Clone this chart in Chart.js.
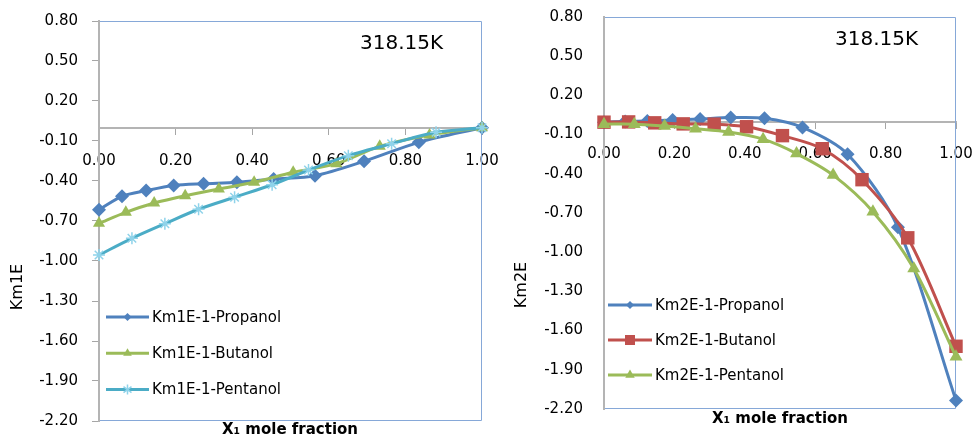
<!DOCTYPE html>
<html><head><meta charset="utf-8">
<script src="https://cdn.jsdelivr.net/npm/chart.js@4/dist/chart.umd.min.js"></script>
<style>
html,body{margin:0;padding:0;background:#fff;}
#wrap{position:relative;width:976px;height:440px;overflow:hidden;background:#fff;}
#c1{position:absolute;left:0;top:0;width:500px;height:440px;}
#c2{position:absolute;left:490px;top:0;width:486px;height:440px;}
</style></head><body>
<div id="wrap"><canvas id="c1" width="500" height="440"></canvas><canvas id="c2" width="486" height="440"></canvas></div>
<script>
// ---- data ----
const x1Propanol = [0, 0.06, 0.123, 0.195, 0.273, 0.36, 0.456, 0.564, 0.692, 0.835, 1.0];
const x1Butanol  = [0, 0.07, 0.144, 0.225, 0.313, 0.405, 0.507, 0.62, 0.733, 0.863, 1.0];
const x1Pentanol = [0, 0.086, 0.172, 0.26, 0.354, 0.452, 0.547, 0.651, 0.764, 0.88, 1.0];

const km1Propanol = [-0.615, -0.515, -0.472, -0.433, -0.42, -0.41, -0.385, -0.36, -0.252, -0.11, 0];
const km1Butanol  = [-0.717, -0.635, -0.565, -0.51, -0.46, -0.41, -0.335, -0.27, -0.14, -0.055, 0];
const km1Pentanol = [-0.955, -0.83, -0.72, -0.612, -0.522, -0.428, -0.318, -0.21, -0.12, -0.035, 0];

const km2Propanol = [-0.005, 0.0, 0.005, 0.012, 0.02, 0.03, 0.025, -0.045, -0.25, -0.81, -2.135];
const km2Butanol  = [-0.005, -0.003, -0.01, -0.018, -0.02, -0.04, -0.108, -0.208, -0.445, -0.89, -1.72];
const km2Pentanol = [-0.02, -0.02, -0.035, -0.055, -0.08, -0.135, -0.245, -0.41, -0.69, -1.125, -1.80];

const labels1 = ['Km1E-1-Propanol', 'Km1E-1-Butanol', 'Km1E-1-Pentanol'];
const labels2 = ['Km2E-1-Propanol', 'Km2E-1-Butanol', 'Km2E-1-Pentanol'];
const yTicks = [0.8, 0.5, 0.2, -0.1, -0.4, -0.7, -1.0, -1.3, -1.6, -1.9, -2.2];
const xTicks = [0, 0.2, 0.4, 0.6, 0.8, 1.0];
const yTitle1 = 'Km1E';
const yTitle2 = 'Km2E';
const xTitle = 'X\u2081 mole fraction';
const tempLabel = '318.15K';

// ---- rendering ----
const FONT = "'DejaVu Sans', sans-serif";
Chart.defaults.font.family = FONT;
Chart.defaults.font.size = 15;
Chart.defaults.color = '#000';

function pts(xs, ys) { return xs.map((x, i) => ({x: x, y: ys[i]})); }

function drawMarker(ctx, style, x, y, r) {
  ctx.beginPath();
  if (style === 'rectRot') {
    ctx.moveTo(x, y - r); ctx.lineTo(x + r, y); ctx.lineTo(x, y + r); ctx.lineTo(x - r, y); ctx.closePath();
    ctx.fill();
  } else if (style === 'rect') {
    ctx.rect(x - r, y - r, 2 * r, 2 * r); ctx.fill();
  } else if (style === 'triangle') {
    ctx.moveTo(x, y - r); ctx.lineTo(x + r * 0.866, y + r * 0.5); ctx.lineTo(x - r * 0.866, y + r * 0.5); ctx.closePath();
    ctx.fill();
  } else if (style === 'star') {
    ctx.moveTo(x, y - r); ctx.lineTo(x, y + r);
    ctx.moveTo(x - r * 0.8, y - r * 0.6); ctx.lineTo(x + r * 0.8, y + r * 0.6);
    ctx.moveTo(x + r * 0.8, y - r * 0.6); ctx.lineTo(x - r * 0.8, y + r * 0.6);
    ctx.stroke();
  }
}

const decorPlugin = {
  id: 'decor',
  beforeDatasetsDraw(chart) {
    const {left, right, top, bottom} = chart.chartArea;
    const ctx = chart.ctx;
    ctx.save();
    ctx.strokeStyle = '#86a8d8';
    ctx.lineWidth = 1;
    ctx.beginPath();
    ctx.moveTo(left + 1, top + 0.5); ctx.lineTo(right - 0.5, top + 0.5);
    ctx.lineTo(right - 0.5, bottom - 0.5); ctx.lineTo(left + 1, bottom - 0.5);
    ctx.stroke();
    ctx.restore();
  },
  afterDraw(chart) {
    const o = chart.options.plugins.decor;
    const ctx = chart.ctx;
    ctx.save();
    // legend
    chart.data.datasets.forEach((ds, i) => {
      const y = o.legY + i * o.legDy;
      ctx.strokeStyle = ds.borderColor;
      ctx.lineWidth = 3;
      ctx.beginPath(); ctx.moveTo(o.legX0, y); ctx.lineTo(o.legX1, y); ctx.stroke();
      ctx.fillStyle = ds.pointBackgroundColor;
      ctx.strokeStyle = ds.pointBorderColor;
      ctx.lineWidth = 1.5;
      drawMarker(ctx, ds.pointStyle, (o.legX0 + o.legX1) / 2, y, o.legR[i]);
      ctx.fillStyle = '#000';
      ctx.font = '15px ' + FONT;
      ctx.textAlign = 'left';
      ctx.textBaseline = 'middle';
      ctx.fillText(ds.label, o.legX1 + 3, y + 1);
    });
    // temperature
    ctx.fillStyle = '#000';
    ctx.font = '20px ' + FONT;
    ctx.textAlign = 'left';
    ctx.textBaseline = 'middle';
    ctx.fillText(tempLabel, o.tempX, o.tempY);
    // x title
    ctx.font = 'bold 15px ' + FONT;
    ctx.textAlign = 'center';
    ctx.fillText(xTitle, o.xtX, o.xtY);
    // y title
    ctx.font = '16px ' + FONT;
    ctx.translate(o.ytX, o.ytY);
    ctx.rotate(-Math.PI / 2);
    ctx.fillText(o.yTitle, 0, 0);
    ctx.restore();
  }
};

function makeChart(id, W, H, area, datasets, decor, yTickLen) {
  return new Chart(document.getElementById(id), {
    type: 'scatter',
    data: {datasets: datasets},
    options: {
      responsive: false,
      animation: false,
      events: [],
      layout: {padding: {left: 0, top: area.top, right: W - area.right, bottom: H - area.bottom}},
      plugins: {legend: {display: false}, tooltip: {enabled: false}, decor: decor},
      scales: {
        x: {
          type: 'linear', min: 0, max: 1,
          position: {y: 0},
          afterBuildTicks: s => { s.ticks = xTicks.map(v => ({value: v})); },
          afterFit: s => { s.height = 0; s.paddingLeft = 0; s.paddingRight = 0; },
          ticks: {callback: v => Number(v).toFixed(2), padding: 18, maxRotation: 0, autoSkip: false, color: '#000', font: {size: 15}},
          grid: {drawOnChartArea: false, drawTicks: true, tickLength: 6, color: '#a6a6a6', lineWidth: 1},
          border: {display: true, color: '#b4b4b4', width: 2}
        },
        y: {
          type: 'linear', min: -2.2, max: 0.8,
          position: 'left',
          afterBuildTicks: s => { s.ticks = yTicks.map(v => ({value: v})); },
          afterFit: s => { s.width = area.left; s.paddingTop = 0; s.paddingBottom = 0; },
          ticks: {callback: v => Number(v).toFixed(2), padding: 21 - yTickLen, color: '#000', font: {size: 15}},
          grid: {drawOnChartArea: false, drawTicks: yTickLen > 0, tickLength: yTickLen, color: '#a6a6a6', lineWidth: 1},
          border: {display: true, color: '#b4b4b4', width: 2}
        }
      }
    },
    plugins: [decorPlugin]
  });
}

function ds(label, xs, ys, color, style, r, ptColor, order, ptBorder) {
  return {
    label: label, data: pts(xs, ys), showLine: true, tension: 0.3,
    borderColor: color, backgroundColor: color, borderWidth: 3,
    pointStyle: style, pointRadius: r, pointHoverRadius: r,
    pointBackgroundColor: ptColor, pointBorderColor: ptBorder || ptColor, pointBorderWidth: style === 'star' ? 1.5 : 0,
    clip: false, order: order
  };
}

const BLUE = '#4f81bd', GREEN = '#9bbb59', CYAN = '#4bacc6', RED = '#c0504d', LCYAN = '#8fd3ea';

makeChart('c1', 500, 440, {left: 99, right: 482, top: 21, bottom: 421}, [
  ds(labels1[0], x1Propanol, km1Propanol, BLUE, 'rectRot', 7, BLUE, 2),
  ds(labels1[1], x1Butanol, km1Butanol, GREEN, 'triangle', 7, GREEN, 1),
  ds(labels1[2], x1Pentanol, km1Pentanol, CYAN, 'star', 6, LCYAN, 0, LCYAN)
], {
  legY: 317, legDy: 36.3, legX0: 106, legX1: 149, legR: [4, 5, 5],
  tempX: 360, tempY: 44, xtX: 290, xtY: 430, ytX: 18, ytY: 287, yTitle: yTitle1
}, 7);

makeChart('c2', 486, 440, {left: 114, right: 466, top: 17, bottom: 409}, [
  ds(labels2[0], x1Propanol, km2Propanol, BLUE, 'rectRot', 7, BLUE, 2),
  ds(labels2[1], x1Butanol, km2Butanol, RED, 'rect', 9.5, RED, 1),
  ds(labels2[2], x1Pentanol, km2Pentanol, GREEN, 'triangle', 7.5, GREEN, 0)
], {
  legY: 305, legDy: 35, legX0: 118, legX1: 162, legR: [4, 5, 5.5],
  tempX: 345, tempY: 40, xtX: 290, xtY: 419, ytX: 32, ytY: 285, yTitle: yTitle2
}, 0);
</script>
</body></html>
